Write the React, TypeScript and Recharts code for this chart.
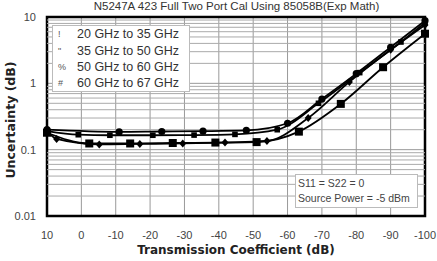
import React from 'react';
import {
  LineChart,
  Line,
  XAxis,
  YAxis,
  CartesianGrid,
  ReferenceLine,
  ReferenceArea,
} from 'recharts';

const chartTitle = 'N5247A 423 Full Two Port Cal Using 85058B(Exp Math)';
const xAxisTitle = 'Transmission Coefficient (dB)';
const yAxisTitle = 'Uncertainty (dB)';
const noteLines = ['S11 = S22 = 0', 'Source Power = -5 dBm'];

const xTicks = [10, 0, -10, -20, -30, -40, -50, -60, -70, -80, -90, -100];
const yTicks = [0.01, 0.1, 1, 10];
const yMinor = [
  0.02, 0.03, 0.04, 0.05, 0.06, 0.07, 0.08, 0.09,
  0.2, 0.3, 0.4, 0.5, 0.6, 0.7, 0.8, 0.9,
  2, 3, 4, 5, 6, 7, 8, 9,
];

const seriesNames = ['20 GHz to 35 GHz', '35 GHz to 50 GHz', '50 GHz to 60 GHz', '60 GHz to 67 GHz'];
const legendGlyphs = ['!', '"', '%', '#'];

// 20-35 GHz (circles, upper)
const s1X = [10, -11, -23.4, -35.4, -48, -60, -70, -80, -90, -100];
const s1Y = [0.2, 0.185, 0.188, 0.19, 0.195, 0.25, 0.58, 1.4, 3.5, 8.8];
// 35-50 GHz (small squares, upper)
const s2X = [10, 0.9, -8.3, -20.8, -32.8, -44.7, -57, -69, -81, -93, -100];
const s2Y = [0.19, 0.168, 0.165, 0.165, 0.166, 0.17, 0.2, 0.5, 1.45, 4.2, 8.2];
// 50-60 GHz (diamonds, lower then joining upper band)
const s3X = [10, 7.2, -5.2, -17, -29.5, -41.8, -54, -66, -78, -90, -100];
const s3Y = [0.19, 0.145, 0.12, 0.122, 0.124, 0.128, 0.135, 0.3, 1.05, 3.2, 7.6];
// 60-67 GHz (large squares, lowest)
const s4X = [10, -2.3, -14.2, -26.6, -39, -51, -63.3, -75.5, -87.8, -100];
const s4Y = [0.18, 0.124, 0.124, 0.126, 0.128, 0.13, 0.187, 0.49, 1.75, 5.6];

const toPts = (xs: number[], ys: number[]) => xs.map((x, i) => ({ x, y: ys[i] }));
const seriesData = [toPts(s1X, s1Y), toPts(s2X, s2Y), toPts(s3X, s3Y), toPts(s4X, s4Y)];

const FONT = "Arial, 'Liberation Sans', sans-serif";
const BOLD_FONT = "'DejaVu Sans', Verdana, sans-serif";

const makeDot = (kind: number) => (props: any) => {
  const { cx, cy, index } = props;
  if (cx == null || cy == null) return <g key={`d${kind}-${index}`} />;
  const k = `d${kind}-${index}`;
  if (kind === 0) return <circle key={k} cx={cx} cy={cy} r={3.6} fill="#000" />;
  if (kind === 1) return <rect key={k} x={cx - 2.8} y={cy - 2.8} width={5.6} height={5.6} fill="#000" />;
  if (kind === 2)
    return (
      <path key={k} d={`M${cx},${cy - 4} L${cx + 3.5},${cy} L${cx},${cy + 4} L${cx - 3.5},${cy} Z`} fill="#000" />
    );
  return <rect key={k} x={cx - 4} y={cy - 4} width={8} height={8} fill="#000" />;
};

export default function App() {
  return (
    <div style={{ position: 'absolute', left: 0, top: 0, width: 437, height: 261, background: '#fff' }}>
      <LineChart
        width={437}
        height={261}
        margin={{ top: 17, right: 12, left: 0, bottom: 0 }}
        style={{ position: 'absolute', left: 0, top: 0 }}
      >
        <CartesianGrid stroke="#999" strokeWidth={1} />
        {yMinor.map((v) => (
          <ReferenceLine key={v} y={v} stroke="#aaa" strokeWidth={1} />
        ))}
        <XAxis
          dataKey="x"
          type="number"
          domain={[-100, 10]}
          reversed
          ticks={xTicks}
          interval={0}
          allowDuplicatedCategory={false}
          height={45}
          tickSize={0}
          tickMargin={15}
          axisLine={false}
          tick={{ fill: '#444', fontSize: 11, fontFamily: FONT }}
        />
        <YAxis
          type="number"
          scale="log"
          domain={[0.01, 10]}
          ticks={yTicks}
          interval={0}
          allowDataOverflow
          width={47}
          tickSize={0}
          tickMargin={11}
          axisLine={false}
          tick={{ fill: '#444', fontSize: 11, fontFamily: FONT }}
        />
        {seriesData.map((d, i) => (
          <Line
            key={seriesNames[i]}
            name={seriesNames[i]}
            data={d}
            dataKey="y"
            type="monotone"
            stroke="#000"
            strokeWidth={1.8}
            dot={makeDot(i)}
            activeDot={false}
            isAnimationActive={false}
          />
        ))}
        <ReferenceArea
          x1={10}
          x2={-100}
          y1={0.01}
          y2={10}
          fill="none"
          stroke="#000"
          strokeWidth={2.5}
          ifOverflow="visible"
        />
      </LineChart>
      <div
        style={{
          position: 'absolute',
          left: 0,
          top: 0,
          width: 473,
          textAlign: 'center',
          fontFamily: FONT,
          fontSize: 11.5,
          lineHeight: '12px',
          color: '#333',
          whiteSpace: 'nowrap',
        }}
      >
        {chartTitle}
      </div>
      <div
        style={{
          position: 'absolute',
          left: 52,
          top: 25,
          width: 138,
          height: 67,
          boxSizing: 'border-box',
          border: '1px solid #bbb',
          background: '#fff',
          fontFamily: FONT,
          fontSize: 12.5,
          color: '#333',
        }}
      >
        {seriesNames.map((n, i) => (
          <div key={n} style={{ height: 16.4, display: 'flex', alignItems: 'center', whiteSpace: 'nowrap' }}>
            <span style={{ width: 24, paddingLeft: 5, boxSizing: 'border-box', fontSize: 9, color: '#555' }}>
              {legendGlyphs[i]}
            </span>
            <span>{n}</span>
          </div>
        ))}
      </div>
      <div
        style={{
          position: 'absolute',
          left: 295,
          top: 174,
          width: 123,
          height: 34,
          boxSizing: 'border-box',
          border: '1px solid #bbb',
          background: '#fff',
          fontFamily: FONT,
          fontSize: 10.5,
          color: '#444',
          paddingLeft: 2,
          lineHeight: '14.5px',
          paddingTop: 1,
          whiteSpace: 'nowrap',
        }}
      >
        <div>{noteLines[0]}</div>
        <div>{noteLines[1]}</div>
      </div>
      <div
        style={{
          position: 'absolute',
          left: 0,
          top: 243,
          width: 472,
          textAlign: 'center',
          fontFamily: BOLD_FONT,
          fontWeight: 'bold',
          fontSize: 12,
          color: '#222',
          whiteSpace: 'nowrap',
        }}
      >
        {xAxisTitle}
      </div>
      <div
        style={{
          position: 'absolute',
          left: 10,
          top: 120,
          transform: 'translate(-50%, -50%) rotate(-90deg)',
          fontFamily: BOLD_FONT,
          fontWeight: 'bold',
          fontSize: 12.5,
          color: '#222',
          whiteSpace: 'nowrap',
        }}
      >
        {yAxisTitle}
      </div>
    </div>
  );
}
